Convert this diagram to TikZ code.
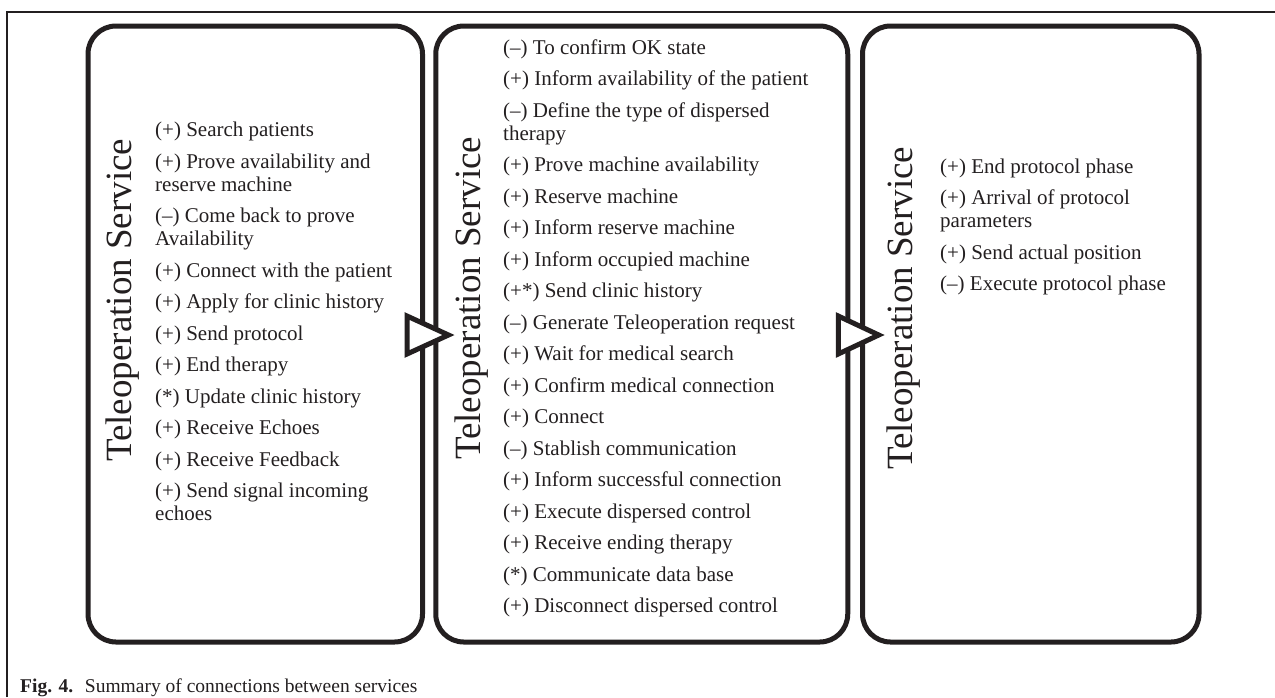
\documentclass[tikz,border=0pt]{standalone}
\usepackage{fontspec}
\setmainfont{Liberation Serif}
\usetikzlibrary{calc}
\definecolor{ink}{RGB}{35,31,32}
\tikzset{
  svcbox/.style={draw=ink, line width=5pt, rounded corners=28pt, inner sep=0pt},
  flowtri/.style={draw=ink, fill=white, line width=5pt, line join=miter},
  svclabel/.style={rotate=90, anchor=base west, inner sep=0pt, text=ink, font=\fontsize{37}{42}\selectfont},
  itemlist/.style={anchor=north west, inner sep=0pt, align=left, text=ink, font=\fontsize{21}{23}\selectfont},
  frameline/.style={draw=ink, line width=2pt}
}
\begin{document}
\begin{tikzpicture}[x=1pt,y=1pt]
\useasboundingbox (0,0) rectangle (1275,-697);
% frame
\coordinate (fl) at (7,-697);
\coordinate (fc) at (7,-11.5);
\coordinate (fr) at (1276,-11.5);
\draw[frameline] (fl) -- (fc) -- (fr);
% boxes
\node[svcbox, minimum width=334.5pt, minimum height=616pt] (b1) at (255.25,-334) {};
\node[svcbox, minimum width=412pt, minimum height=616pt] (b2) at (641.75,-334) {};
\node[svcbox, minimum width=336.5pt, minimum height=616pt] (b3) at (1030.75,-334) {};
% labels
\node[svclabel] (t1) at (131,-462) {Teleoperation Service};
\node[svclabel] (t2) at (480,-460) {Teleoperation Service};
\node[svclabel] (t3) at (912,-470) {Teleoperation Service};
% lists
\node[itemlist] (l1) at (155,-122) {%
(+) Search patients\\[8.5pt]
(+) Prove availability and\\ reserve machine\\[8.5pt]
(–) Come back to prove\\ Availability\\[8.5pt]
(+) Connect with the patient\\[8.5pt]
(+) Apply for clinic history\\[8.5pt]
(+) Send protocol\\[8.5pt]
(+) End therapy\\[8.5pt]
(*) Update clinic history\\[8.5pt]
(+) Receive Echoes\\[8.5pt]
(+) Receive Feedback\\[8.5pt]
(+) Send signal incoming\\ echoes};
\node[itemlist] (l2) at (503,-39.5) {%
(–) To confirm OK state\\[8.5pt]
(+) Inform availability of the patient\\[8.5pt]
(–) Define the type of dispersed\\ therapy\\[8.5pt]
(+) Prove machine availability\\[8.5pt]
(+) Reserve machine\\[8.5pt]
(+) Inform reserve machine\\[8.5pt]
(+) Inform occupied machine\\[8.5pt]
(+*) Send clinic history\\[8.5pt]
(–) Generate Teleoperation request\\[8.5pt]
(+) Wait for medical search\\[8.5pt]
(+) Confirm medical connection\\[8.5pt]
(+) Connect\\[8.5pt]
(–) Stablish communication\\[8.5pt]
(+) Inform successful connection\\[8.5pt]
(+) Execute dispersed control\\[8.5pt]
(+) Receive ending therapy\\[8.5pt]
(*) Communicate data base\\[8.5pt]
(+) Disconnect dispersed control};
\node[itemlist] (l3) at (940,-158.5) {%
(+) End protocol phase\\[8.5pt]
(+) Arrival of protocol\\ parameters\\[8.5pt]
(+) Send actual position\\[8.5pt]
(–) Execute protocol phase};
% flow triangles
\draw[flowtri] ([shift={(-18,18)}]b1.east) -- ([shift={(-18,-20)}]b1.east) -- ([shift={(23.5,-1)}]b1.east) -- cycle;
\draw[flowtri] ([shift={(-12,18)}]b2.east) -- ([shift={(-12,-20)}]b2.east) -- ([shift={(28.5,-1)}]b2.east) -- cycle;
% caption
\node[anchor=base west, inner sep=0pt, text=ink, font=\fontsize{19.5}{22}\selectfont] (cap) at (20,-692) {\textbf{Fig. 4.}\hspace{0.6em}Summary of connections between services};
\end{tikzpicture}
\end{document}
